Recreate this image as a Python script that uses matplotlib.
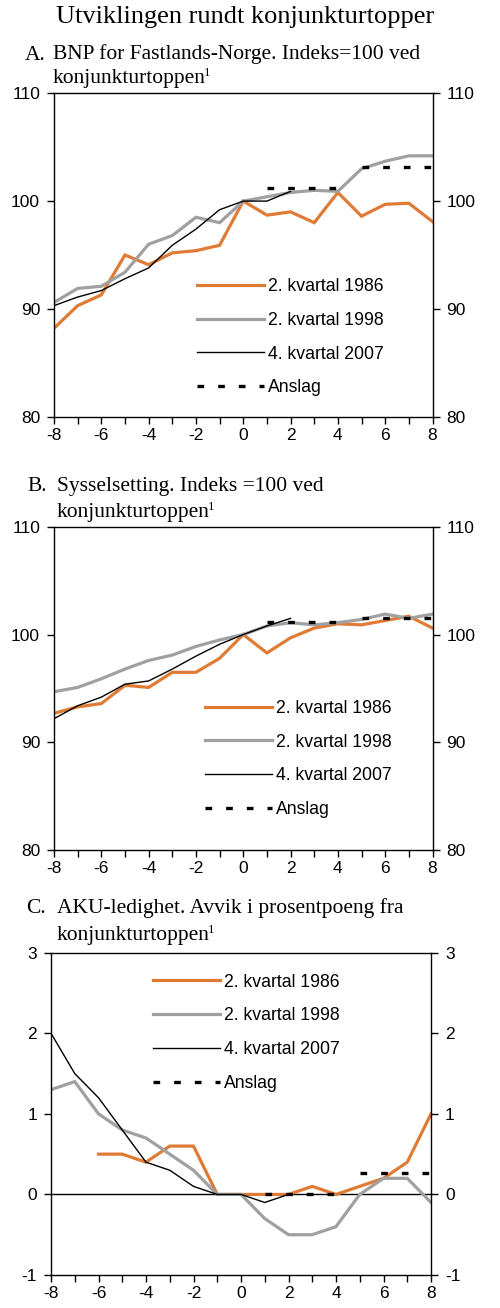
import matplotlib
matplotlib.use("Agg")
import matplotlib.pyplot as plt
import numpy as np

# ---------------- data ----------------
quarters = list(range(-8, 9))
q2007 = list(range(-8, 3))
q1986_c = list(range(-6, 9))

# Panel A: BNP Fastlands-Norge
bnp_1986 = [88.2, 90.3, 91.3, 95.0, 94.1, 95.2, 95.4, 95.9, 100.0, 98.7, 99.0, 98.0, 100.8, 98.6, 99.7, 99.8, 98.1]
bnp_1998 = [90.6, 91.9, 92.1, 93.4, 96.0, 96.8, 98.5, 98.0, 100.0, 100.4, 100.8, 101.0, 100.9, 103.0, 103.7, 104.2, 104.2]
bnp_2007 = [90.3, 91.1, 91.7, 92.8, 93.8, 95.9, 97.4, 99.2, 100.0, 100.0, 100.9]
bnp_anslag = [101.2, 103.2]

# Panel B: Sysselsetting
sys_1986 = [92.7, 93.3, 93.6, 95.3, 95.1, 96.5, 96.5, 97.8, 100.0, 98.3, 99.7, 100.6, 101.0, 100.9, 101.3, 101.7, 100.6]
sys_1998 = [94.7, 95.1, 95.9, 96.8, 97.6, 98.1, 98.9, 99.5, 100.0, 100.8, 101.1, 100.9, 101.1, 101.4, 101.9, 101.5, 101.9]
sys_2007 = [92.2, 93.4, 94.2, 95.4, 95.7, 96.8, 98.0, 99.1, 100.0, 100.8, 101.5]
sys_anslag = [101.2, 101.5]

# Panel C: AKU-ledighet
aku_1986 = [0.5, 0.5, 0.4, 0.6, 0.6, 0.0, 0.0, 0.0, 0.0, 0.1, 0.0, 0.1, 0.2, 0.4, 1.0]
aku_1998 = [1.3, 1.4, 1.0, 0.8, 0.7, 0.5, 0.3, 0.0, 0.0, -0.3, -0.5, -0.5, -0.4, 0.0, 0.2, 0.2, -0.1]
aku_2007 = [2.0, 1.5, 1.2, 0.8, 0.4, 0.3, 0.1, 0.0, 0.0, -0.1, 0.0]
aku_anslag = [0.0, 0.27]

anslag_periods = [(1, 4), (5, 8)]

labels = ["2. kvartal 1986", "2. kvartal 1998", "4. kvartal 2007", "Anslag"]

title = "Utviklingen rundt konjunkturtopper"
panel_titles = [
    ("A.", "BNP for Fastlands-Norge. Indeks=100 ved", "konjunkturtoppen"),
    ("B.", "Sysselsetting. Indeks =100 ved", "konjunkturtoppen"),
    ("C.", "AKU-ledighet. Avvik i prosentpoeng fra", "konjunkturtoppen"),
]
footnote_mark = "1"

# ---------------- style ----------------
ORANGE = "#E07B35"
GRAY = "#A0A0A0"
BLACK = "#000000"
SANS = ["Liberation Sans", "DejaVu Sans"]
SERIF = ["Liberation Serif", "DejaVu Serif"]

plt.rcParams["font.family"] = SANS
plt.rcParams["axes.unicode_minus"] = False

W, H = 500, 1308
fig = plt.figure(figsize=(W / 100, H / 100), dpi=100)


def fx(px):
    return px / W


def fy(py):
    return 1 - py / H


def make_axes(left, right, top, bottom):
    return fig.add_axes([fx(left), fy(bottom), fx(right) - fx(left), fy(top) - fy(bottom)])


axA = make_axes(54, 432.5, 93.3, 416.7)
axB = make_axes(54, 432.5, 526.7, 850.3)
axC = make_axes(51, 431, 952.7, 1275)

LW_THICK = 2.3
LW_THIN = 1.0
TICK_FS = 12.5
LEG_FS = 12.7
PT_FS = 15.5


def draw(ax, s86, s98, s07, ansl, x86):
    l1, = ax.plot(x86, s86, color=ORANGE, lw=LW_THICK, solid_joinstyle="miter")
    l2, = ax.plot(quarters, s98, color=GRAY, lw=LW_THICK, solid_joinstyle="miter")
    l3, = ax.plot(q2007, s07, color=BLACK, lw=LW_THIN)
    l4 = None
    for (a, b), v in zip(anslag_periods, ansl):
        l4, = ax.plot([a, b], [v, v], color=BLACK, lw=2.4, linestyle=(0, (2.0, 4.2)),
                      dash_capstyle="butt")
    return [l1, l2, l3, l4]


def style(ax, ylim, yticks):
    ax.set_xlim(-8, 8)
    ax.set_ylim(*ylim)
    ax.set_yticks(yticks)
    ax.set_xticks(quarters)
    ax.set_xticklabels([str(q) if q % 2 == 0 else "" for q in quarters])
    ax.tick_params(axis="both", direction="out", length=5, width=1, labelsize=TICK_FS, colors="black")
    ax.tick_params(axis="y", left=True, right=True, labelleft=True, labelright=True, pad=5)
    ax.tick_params(axis="x", pad=3)
    for sp in ax.spines.values():
        sp.set_linewidth(1.0)
        sp.set_color("black")


hA = draw(axA, bnp_1986, bnp_1998, bnp_2007, bnp_anslag, quarters)
style(axA, (80, 110), [80, 90, 100, 110])
hB = draw(axB, sys_1986, sys_1998, sys_2007, sys_anslag, quarters)
style(axB, (80, 110), [80, 90, 100, 110])
hC = draw(axC, aku_1986, aku_1998, aku_2007, aku_anslag, q1986_c)
style(axC, (-1, 3), [-1, 0, 1, 2, 3])
axC.axhline(0, color="black", lw=1.0, zorder=1)


def place_legend(ax, handles, x_line_px, row_ys, ax_left, ax_right, ax_top, ax_bottom):
    ymid = (row_ys[0] + row_ys[-1]) / 2
    bx = (x_line_px - ax_left) / (ax_right - ax_left)
    by = (ax_bottom - ymid) / (ax_bottom - ax_top)
    ax.legend(handles, labels, loc="center left", bbox_to_anchor=(bx, by),
              frameon=False, fontsize=LEG_FS, handlelength=3.8, handletextpad=0.25,
              labelspacing=0.95, borderpad=0, borderaxespad=0)


place_legend(axA, hA, 197, [287.7, 320, 353.3, 386.7], 54, 432.5, 93.3, 416.7)
place_legend(axB, hB, 205, [709.3, 742.7, 775.7, 808.7], 54, 432.5, 526.7, 850.3)
place_legend(axC, hC, 153, [983.3, 1016.3, 1049.3, 1082.3], 51, 431, 952.7, 1275)

# ---------------- titles ----------------
fig.text(fx(245), fy(22.7), title, family=SERIF, fontsize=19, ha="center", va="baseline")

title_pos = [
    (25, 53, 59.5, 83),
    (27, 57, 490.7, 516.7),
    (26, 57, 913, 940),
]
fig.canvas.draw()
renderer = fig.canvas.get_renderer()
for (lab, l1, l2), (xa, xb, y1, y2) in zip(panel_titles, title_pos):
    fig.text(fx(xa), fy(y1), lab, family=SERIF, fontsize=PT_FS, ha="left", va="baseline")
    fig.text(fx(xb), fy(y1), l1, family=SERIF, fontsize=PT_FS, ha="left", va="baseline")
    t2 = fig.text(fx(xb), fy(y2), l2, family=SERIF, fontsize=PT_FS, ha="left", va="baseline")
    bb = t2.get_window_extent(renderer=renderer)
    fig.text((bb.x1 - 2.5) / W, fy(y2 - 7), footnote_mark, family=SERIF, fontsize=PT_FS * 0.6,
             ha="left", va="baseline")

fig.savefig("out.png", dpi=100)
